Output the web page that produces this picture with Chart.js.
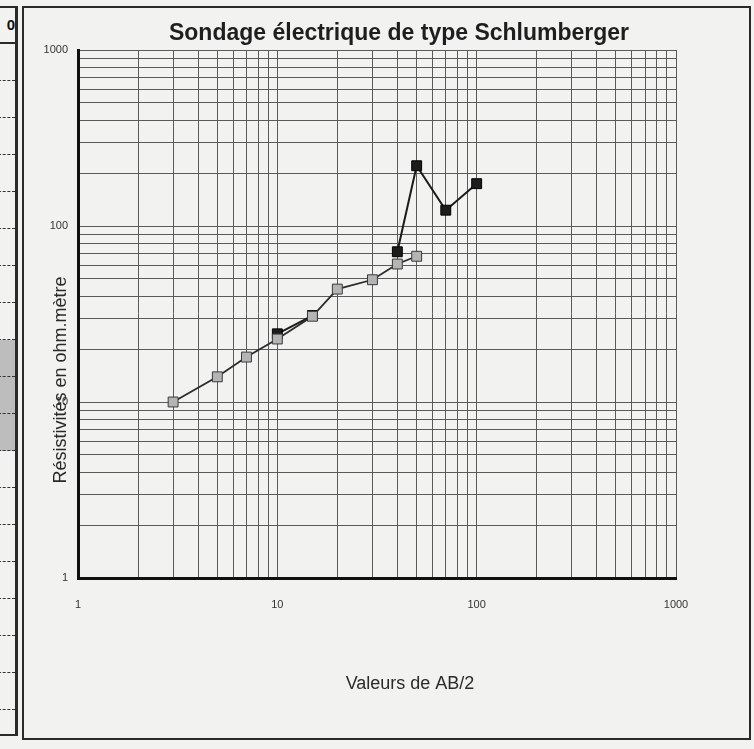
<!DOCTYPE html>
<html>
<head>
<meta charset="utf-8">
<script src="https://cdn.jsdelivr.net/npm/chart.js@4"></script>
<style>
  html, body { margin: 0; padding: 0; background: #f2f2f0; }
  #wrap { position: relative; width: 754px; height: 749px; overflow: hidden; }
  #frame { position: absolute; left: 22px; top: 6px; width: 725px; height: 730px; border: 2px solid #2a2a2a; }
  #strip { position: absolute; left: -4px; top: 6px; width: 17px; height: 726px; border: 2px solid #2a2a2a; border-right-width: 3px; }
  #strip .head { height: 34px; border-bottom: 2px solid #2a2a2a; font: bold 15px "Liberation Sans", Arial, sans-serif; line-height: 34px; text-align: right; color: #111; }
  #strip .row { height: 36px; border-bottom: 1px dashed #333; }
  #strip .shade { background: #bdbdbd; }
  canvas { position: absolute; left: 0; top: 0; }
</style>
</head>
<body>
<div id="wrap">
  <div id="strip">
    <div class="head">0</div>
    <div class="row"></div><div class="row"></div><div class="row"></div><div class="row"></div>
    <div class="row"></div><div class="row"></div><div class="row"></div><div class="row"></div>
    <div class="row shade"></div><div class="row shade"></div><div class="row shade"></div>
    <div class="row"></div><div class="row"></div><div class="row"></div><div class="row"></div>
    <div class="row"></div><div class="row"></div><div class="row"></div>
  </div>
  <div id="frame"></div>
  <canvas id="chart" width="754" height="749"></canvas>
</div>
<script>
// Data
const abGray = [3, 5, 7, 10, 15, 20, 30, 40, 50];
const rhoGray = [10, 13.9, 18, 22.8, 30.7, 43.8, 49.5, 60.8, 67.3];
const abBlack = [10, 15, 20, 30, 40, 50, 70, 100];
const rhoBlack = [24.4, 31, null, null, 71.4, 220, 123, 174];

// Axis ticks
const decadeLabels = [1, 10, 100, 1000];
const steps = [1, 2, 3, 4, 5, 6, 7, 8, 9];

const titleText = 'Sondage électrique de type Schlumberger';
const xTitle = 'Valeurs de AB/2';
const yTitle = 'Résistivités en ohm.mètre';

const FONT = '"Liberation Sans", Arial, sans-serif';

function gridTicks() {
  const out = [];
  decadeLabels.slice(0, -1).forEach(d => steps.forEach(s => out.push({ value: d * s })));
  out.push({ value: 1000 });
  return out;
}

function toPoints(xs, ys) {
  return xs.map((x, i) => ({ x: x, y: ys[i] }));
}

const textPlugin = {
  id: 'texts',
  afterDraw(chart) {
    const { ctx, chartArea: a } = chart;
    ctx.save();
    ctx.fillStyle = '#1e1e1e';
    ctx.textAlign = 'center';
    ctx.textBaseline = 'middle';
    ctx.font = 'bold 23px ' + FONT;
    ctx.fillText(titleText, a.left + 321, a.top - 16);
    ctx.fillStyle = '#2a2a2a';
    ctx.font = '18px ' + FONT;
    ctx.fillText(xTitle, a.left + 332, a.bottom + 106);
    ctx.translate(a.left - 17, a.top + 330);
    ctx.rotate(-Math.PI / 2);
    ctx.fillText(yTitle, 0, 0);
    ctx.restore();
  }
};

function logAxis(extra) {
  return Object.assign({
    type: 'logarithmic',
    min: 1,
    max: 1000,
    afterBuildTicks: scale => { scale.ticks = gridTicks(); },
    grid: { color: '#5a5a5a', lineWidth: 1, drawTicks: false },
    border: { color: '#111', width: 3 },
    ticks: {
      autoSkip: false,
      maxRotation: 0,
      color: '#333',
      font: { family: FONT, size: 11 },
      callback: v => decadeLabels.includes(v) ? String(v) : ''
    }
  }, extra);
}

new Chart(document.getElementById('chart'), {
  type: 'line',
  data: {
    datasets: [
      {
        data: toPoints(abGray, rhoGray),
        borderColor: '#2b2b2b',
        borderWidth: 1.8,
        pointStyle: 'rect',
        pointRadius: 7,
        pointBackgroundColor: '#b4b4b4',
        pointBorderColor: '#3a3a3a',
        pointBorderWidth: 1
      },
      {
        data: toPoints(abBlack, rhoBlack),
        borderColor: '#1a1a1a',
        borderWidth: 2,
        pointStyle: 'rect',
        pointRadius: 7,
        pointBackgroundColor: '#1c1c1c',
        pointBorderColor: '#000',
        pointBorderWidth: 1,
        spanGaps: false
      }
    ]
  },
  options: {
    responsive: false,
    animation: false,
    layout: { padding: { top: 50, right: 78, left: 0, bottom: 0 } },
    plugins: { legend: { display: false }, tooltip: { enabled: false } },
    scales: {
      x: logAxis({
        position: 'bottom',
        afterFit: s => { s.height = 171; },
        ticks: Object.assign({}, logAxis().ticks, { padding: 20 })
      }),
      y: logAxis({
        position: 'left',
        afterFit: s => { s.width = 78; },
        ticks: Object.assign({}, logAxis().ticks, { padding: 10 })
      })
    }
  },
  plugins: [textPlugin]
});
</script>
</body>
</html>
